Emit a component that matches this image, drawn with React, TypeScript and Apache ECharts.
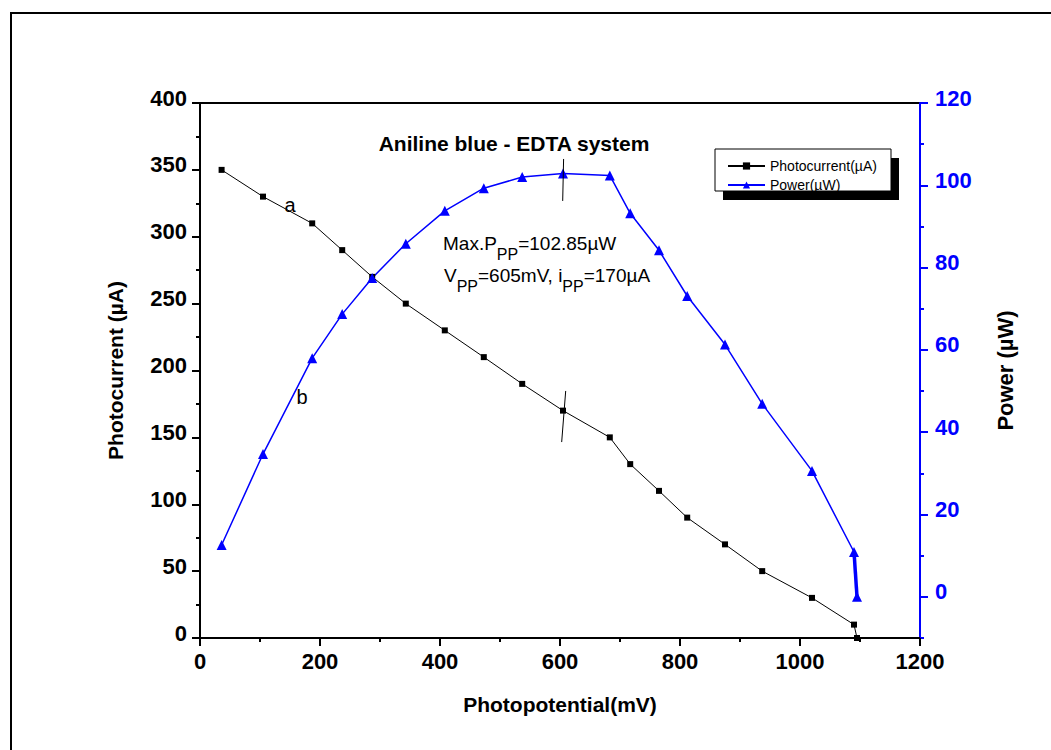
import React, { useEffect, useRef } from 'react';
import * as echarts from 'echarts';

const voltage = [36, 105, 187, 237, 287, 343, 408, 473, 537, 605, 683, 717, 765, 812, 875, 937, 1020, 1090, 1095];
const photocurrent = [350, 330, 310, 290, 270, 250, 230, 210, 190, 170, 150, 130, 110, 90, 70, 50, 30, 10, 0];
const power = [12.6, 34.7, 58.0, 68.7, 77.5, 85.8, 93.8, 99.3, 102.0, 102.85, 102.4, 93.2, 84.2, 73.1, 61.3, 46.9, 30.6, 10.9, 0];
const powerTicks = [0, 20, 40, 60, 80, 100, 120];
const seriesNames = ['Photocurrent(µA)', 'Power(µW)'];
const maxMarkCurrent = [[609.5, 184.7], [602.8, 146.5]];
const maxMarkPower = [[606, 106.4], [604.5, 96.2]];

export default function App() {
  const ref = useRef<HTMLDivElement>(null);
  useEffect(() => {
    const chart = echarts.init(ref.current!, null, { renderer: 'svg' });
    const font = 'Liberation Sans, Arial, Helvetica, sans-serif';
    const blue = '#0000ff';
    const tickLbl = { fontSize: 22, fontWeight: 'bold', fontFamily: font };
    const nameStyle = { fontSize: 21, fontWeight: 'bold', color: '#000', fontFamily: font };
    const option: any = {
      animation: false,
      backgroundColor: '#fff',
      textStyle: { fontFamily: font },
      grid: { left: 200, right: 131, top: 103, bottom: 112, show: true, borderColor: '#000', borderWidth: 2, backgroundColor: 'transparent' },
      legend: {
        data: seriesNames,
        orient: 'vertical',
        left: 722,
        top: 154,
        itemWidth: 37,
        itemHeight: 9,
        itemGap: 5,
        selectedMode: false,
        textStyle: { fontSize: 14, fontFamily: font, color: '#000' },
      },
      xAxis: {
        type: 'value', min: 0, max: 1200, interval: 200,
        name: 'Photopotential(mV)', nameLocation: 'middle', nameGap: 56, nameTextStyle: nameStyle,
        axisLine: { lineStyle: { color: '#000', width: 2 } },
        axisTick: { length: 8, lineStyle: { color: '#000', width: 2 } },
        minorTick: { show: true, splitNumber: 2, length: 4, lineStyle: { color: '#000', width: 2 } },
        splitLine: { show: false },
        minorSplitLine: { show: false },
        axisLabel: { ...tickLbl, color: '#000', margin: 12, formatter: (v: number) => String(v) },
      },
      yAxis: [
        {
          type: 'value', position: 'left', min: 0, max: 400, interval: 50,
          name: 'Photocurrent (µA)', nameLocation: 'middle', nameRotate: 90, nameGap: 74, nameTextStyle: nameStyle,
          axisLine: { show: true, lineStyle: { color: '#000', width: 2 } },
          axisTick: { show: true, length: 8, lineStyle: { color: '#000', width: 2 } },
          minorTick: { show: true, splitNumber: 2, length: 4, lineStyle: { color: '#000', width: 2 } },
          splitLine: { show: false },
          axisLabel: {
            color: '#000', margin: 13,
            formatter: (v: number) => `{v|${v}}`,
            rich: { v: { ...tickLbl, color: '#000', padding: [0, 0, 10, 0] } },
          },
        },
        {
          type: 'value', position: 'right', min: -10, max: 120, interval: 10,
          name: 'Power (µW)', nameLocation: 'middle', nameRotate: 90, nameGap: 74, nameTextStyle: { ...nameStyle, fontSize: 22 },
          axisLine: { show: true, lineStyle: { color: blue, width: 2 } },
          axisTick: { show: true, length: 8, customValues: powerTicks, lineStyle: { color: blue, width: 2 } },
          splitLine: { show: false },
          axisLabel: {
            color: blue, margin: 15,
            customValues: powerTicks,
            formatter: (v: number) => (v >= 0 && v % 20 === 0 ? `{v|${v}}` : ''),
            rich: { v: { ...tickLbl, color: blue, padding: [0, 0, 10, 0] } },
          },
        },
        {
          type: 'value', position: 'right', min: -10, max: 120, interval: 10,
          axisLine: { show: false },
          axisTick: { show: true, length: 4, lineStyle: { color: blue, width: 2 } },
          axisLabel: { show: false },
          splitLine: { show: false },
        },
      ],
      graphic: [
        { type: 'line', z: 1, shape: { x1: 11, y1: 13, x2: 1051, y2: 13 }, style: { stroke: '#000', lineWidth: 2 } },
        { type: 'line', z: 1, shape: { x1: 11, y1: 12, x2: 11, y2: 750 }, style: { stroke: '#000', lineWidth: 2 } },
        { type: 'rect', z: 1, shape: { x: 723, y: 158, width: 176, height: 42 }, style: { fill: '#000' } },
        { type: 'rect', z: 2, shape: { x: 715, y: 149, width: 176, height: 42 }, style: { fill: '#fff', stroke: '#000', lineWidth: 1 } },
        {
          type: 'text', z: 5, x: 514, y: 143,
          style: { text: 'Aniline blue - EDTA system', fontSize: 21, fontWeight: 'bold', fontFamily: font, fill: '#000', align: 'center', verticalAlign: 'middle' },
        },
        {
          type: 'text', z: 5, x: 443, y: 234,
          style: {
            text: '{m|Max.P}{s|PP}{m|=102.85µW}', align: 'left', verticalAlign: 'top',
            rich: {
              m: { fontSize: 19, fontFamily: font, fill: '#000', lineHeight: 20, verticalAlign: 'top' },
              s: { fontSize: 16, fontFamily: font, fill: '#000', lineHeight: 16, padding: [12, 0, 0, 0], verticalAlign: 'top' },
            },
          },
        },
        {
          type: 'text', z: 5, x: 444, y: 266,
          style: {
            text: '{m|V}{s|PP}{m|=605mV, i}{s|PP}{m|=170µA}', align: 'left', verticalAlign: 'top',
            rich: {
              m: { fontSize: 19, fontFamily: font, fill: '#000', lineHeight: 20, verticalAlign: 'top' },
              s: { fontSize: 16, fontFamily: font, fill: '#000', lineHeight: 16, padding: [12, 0, 0, 0], verticalAlign: 'top' },
            },
          },
        },
        { type: 'text', z: 5, x: 290, y: 205, style: { text: 'a', fontSize: 20, fontFamily: font, fill: '#000', align: 'center', verticalAlign: 'middle' } },
        { type: 'text', z: 5, x: 302, y: 397, style: { text: 'b', fontSize: 20, fontFamily: font, fill: '#000', align: 'center', verticalAlign: 'middle' } },
      ],
      series: [
        {
          name: seriesNames[0], type: 'line', yAxisIndex: 0,
          data: voltage.map((v, i) => [v, photocurrent[i]]),
          symbol: 'rect', symbolSize: 6,
          itemStyle: { color: '#000' },
          lineStyle: { color: '#000', width: 1 },
          markLine: {
            silent: true, symbol: ['none', 'none'], label: { show: false },
            lineStyle: { color: '#000', width: 1, type: 'solid' },
            data: [[{ coord: maxMarkCurrent[0] }, { coord: maxMarkCurrent[1] }]],
          },
        },
        {
          name: seriesNames[1], type: 'line', yAxisIndex: 1,
          data: voltage.map((v, i) => [v, power[i]]),
          symbol: 'triangle', symbolSize: 10,
          itemStyle: { color: blue },
          lineStyle: { color: blue, width: 1.5 },
          z: 3,
          markLine: {
            silent: true, symbol: ['none', 'none'], label: { show: false },
            lineStyle: { color: '#000', width: 1, type: 'solid' },
            data: [[{ coord: maxMarkPower[0] }, { coord: maxMarkPower[1] }]],
          },
        },
        {
          name: 'powerTail', type: 'line', yAxisIndex: 1,
          data: voltage.slice(-2).map((v, i) => [v, power[power.length - 2 + i]]),
          symbol: 'none', lineStyle: { color: blue, width: 3.5 }, z: 2,
        },
      ],
    };
    chart.setOption(option);
    return () => chart.dispose();
  }, []);
  return <div ref={ref} style={{ position: 'fixed', left: 0, top: 0, width: 1051, height: 750, background: '#fff' }} />;
}
